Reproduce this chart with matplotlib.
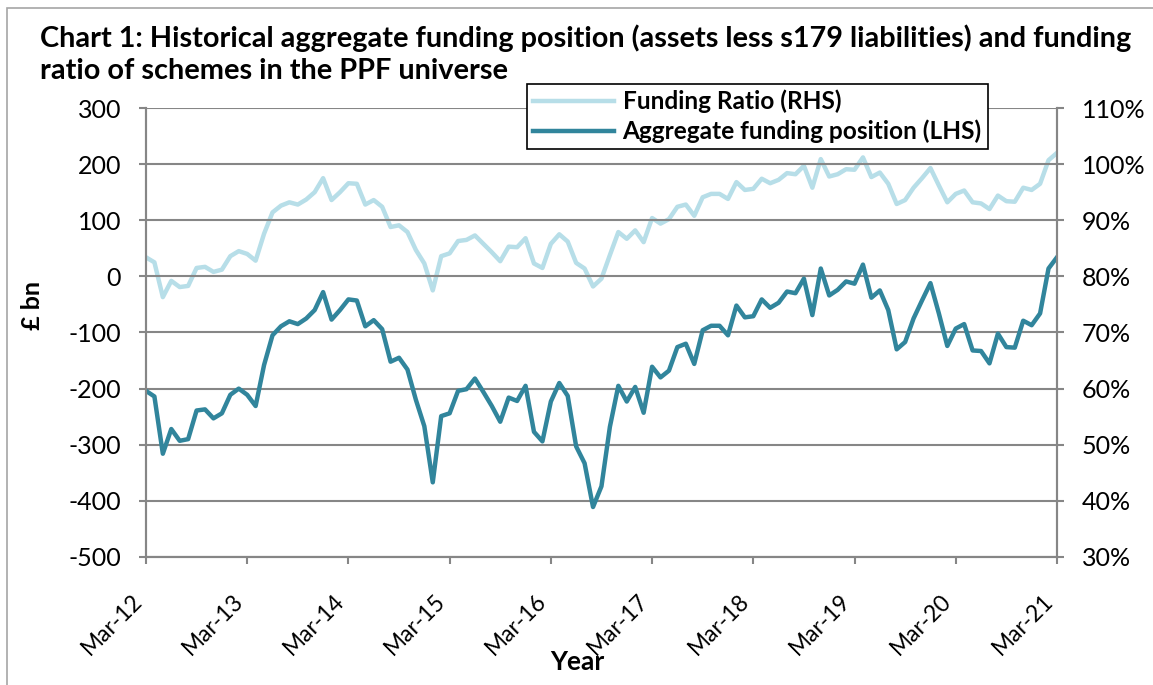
import numpy as np
import matplotlib.pyplot as plt
from matplotlib.patches import Rectangle

plt.rcParams["axes.unicode_minus"] = False

# monthly data Mar-12 .. Mar-21
funding_position = [
    -204, -214, -316, -272, -293, -290, -239, -237, -253, -244, -211, -200,
    -211, -231, -158, -105, -89, -80, -85, -75, -60, -28, -77, -60,
    -41, -43, -89, -78, -94, -152, -145, -166, -220, -267, -367, -249,
    -244, -204, -201, -182, -206, -231, -259, -216, -222, -195, -277, -294,
    -223, -190, -213, -303, -333, -411, -374, -268, -195, -223, -197, -243,
    -161, -180, -168, -126, -120, -156, -96, -88, -88, -105, -52, -73,
    -71, -41, -56, -47, -27, -30, -4, -69, 14, -34, -24, -9,
    -13, 21, -38, -25, -60, -130, -117, -75, -43, -12, -66, -124,
    -93, -85, -132, -133, -155, -102, -126, -127, -79, -87, -66, 14,
    34,
]
funding_ratio = [
    83.4, 82.5, 76.3, 79.2, 78.1, 78.3, 81.5, 81.7, 80.8, 81.2, 83.6, 84.5,
    84.0, 82.8, 87.6, 91.4, 92.6, 93.2, 92.8, 93.7, 95.0, 97.5, 93.6, 95.0,
    96.6, 96.5, 92.8, 93.6, 92.4, 88.8, 89.1, 87.9, 84.7, 82.3, 77.5, 83.6,
    84.1, 86.3, 86.5, 87.3, 85.8, 84.3, 82.7, 85.3, 85.2, 86.8, 82.3, 81.5,
    85.8, 87.5, 86.2, 82.4, 81.4, 78.2, 79.6, 83.8, 87.9, 86.7, 88.2, 86.1,
    90.4, 89.4, 90.2, 92.4, 92.8, 90.8, 94.1, 94.7, 94.7, 93.8, 96.8, 95.4,
    95.6, 97.4, 96.6, 97.2, 98.4, 98.2, 99.7, 95.8, 100.9, 97.8, 98.2, 99.1,
    99.0, 101.2, 97.7, 98.5, 96.5, 92.9, 93.6, 95.8, 97.5, 99.3, 96.2, 93.2,
    94.7, 95.3, 93.2, 93.0, 92.0, 94.4, 93.4, 93.3, 95.8, 95.4, 96.5, 100.7,
    102.0,
]
year_labels = ["Mar-12", "Mar-13", "Mar-14", "Mar-15", "Mar-16",
               "Mar-17", "Mar-18", "Mar-19", "Mar-20", "Mar-21"]

dark = "#31859C"
light = "#B7DEE8"
grid_col = "#868686"
font = "Lato"

months = np.arange(len(funding_position))

fig = plt.figure(figsize=(11.53, 6.85), dpi=100)
fig.patches.append(Rectangle((0.006, -0.01), 1.2, 0.998, transform=fig.transFigure,
                             fill=False, edgecolor="#a6a6a6", linewidth=1.2))

ax = fig.add_axes([0.1266, 0.1869, 0.7901, 0.6554])
ax2 = ax.twinx()

l2, = ax2.plot(months, funding_ratio, color=light, linewidth=3.2,
               solid_joinstyle="round", label="Funding Ratio (RHS)")
l1, = ax.plot(months, funding_position, color=dark, linewidth=3.2,
              solid_joinstyle="round", label="Aggregate funding position (LHS)")
ax.set_zorder(ax2.get_zorder() + 1)
ax.patch.set_visible(False)

ax.set_xlim(0, len(months) - 1)
ax.set_ylim(-500, 300)
ax.set_yticks(np.arange(-500, 301, 100))
ax2.set_ylim(30, 110)
ax2.set_yticks(np.arange(30, 111, 10))
ax2.set_yticklabels([f"{v}%" for v in range(30, 111, 10)])

ax.set_xticks(np.arange(0, len(months), 12))
ax.set_xticklabels(year_labels, rotation=45, ha="right", va="top",
                   rotation_mode="default", fontsize=16.5, family=font)

ax.grid(axis="y", color=grid_col, linewidth=1.5)
ax.set_axisbelow(True)
for a in (ax, ax2):
    for s in a.spines.values():
        s.set_color(grid_col)
        s.set_linewidth(1.5)
    a.spines["top"].set_visible(False)
    a.tick_params(colors=grid_col, width=1.5, length=5, labelcolor="black",
                  labelsize=18, pad=13)
    for t in a.get_yticklabels():
        t.set_family(font)
ax.tick_params(axis="x", pad=19, labelsize=16.5)

ax.set_ylabel("£ bn", fontsize=18, fontweight="bold", family=font)
ax.yaxis.set_label_coords(-0.112, 0.56)
ax.set_xlabel("Year", fontsize=19, fontweight="bold", family=font)
ax.xaxis.set_label_coords(0.473, -0.207)

fig.text(0.035, 0.932, "Chart 1: Historical aggregate funding position (assets less s179 liabilities) and funding",
         fontsize=20.8, fontweight="bold", family=font, va="baseline")
fig.text(0.035, 0.884, "ratio of schemes in the PPF universe",
         fontsize=20.8, fontweight="bold", family=font, va="baseline")

leg = ax.legend(handles=[l2, l1], loc="upper left", bbox_to_anchor=(0.4185, 1.054),
                frameon=True, fancybox=False, framealpha=1, edgecolor="black",
                handlelength=3.3, handletextpad=0.35, borderpad=0.25, labelspacing=0.25,
                borderaxespad=0,
                prop={"family": font, "weight": "bold", "size": 17.6})
leg.get_frame().set_linewidth(1.2)

fig.savefig("out.png", dpi=100)
